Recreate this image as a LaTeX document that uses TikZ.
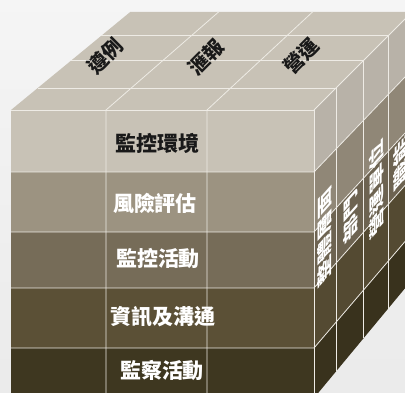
\documentclass[tikz,border=0pt]{standalone}
\usepackage{fontspec}
\usepackage{tikz}
\usetikzlibrary{calc}
\newfontfamily\cjk{Noto Sans CJK TC}
\definecolor{row-a}{HTML}{C8C2B6}
\definecolor{row-b}{HTML}{9C9381}
\definecolor{row-c}{HTML}{766C58}
\definecolor{row-d}{HTML}{5B5036}
\definecolor{row-e}{HTML}{3E3720}
\definecolor{edge}{HTML}{EEEBE5}
\tikzset{
    grid-line/.style = {draw=edge, line width=0.8pt},
    front-label/.style = {text=white, inner sep=0pt, font=\cjk\bfseries\fontsize{21}{21}\selectfont},
    top-label/.style = {text=black!90, inner sep=0pt, rotate=45, font=\cjk\bfseries\fontsize{20}{20}\selectfont},
    side-label/.style = {text=white, inner sep=0pt, cm={0,1.2,-0.8,-0.9,(0,0)}, font=\cjk\bfseries\fontsize{19}{19}\selectfont},
}

\begin{document}
\begin{tikzpicture}[x=1pt, y=-1pt]
\clip (0,0) rectangle (405,393);
\shade[top color=white!96!black, bottom color=white!92!black] (0,0) rectangle (405,393);
\coordinate (V) at (1714,-1290);

% faces
\fill[row-a] (11,110) -- (314,110) -- ($(314,110)!0.07!(V)$) -- ($(11,110)!0.07!(V)$) -- cycle;
\foreach \ya/\yb/\col in {110/172/row-a, 172/232/row-b, 232/288/row-c, 288/348/row-d, 348/398/row-e} {
    \fill[\col] (11,\ya) rectangle (314,\yb);
    \fill[\col!92!black] (314,\ya) -- (314,\yb) -- ($(314,\yb)!0.07!(V)$) -- ($(314,\ya)!0.07!(V)$) -- cycle;
}

% grid
\draw[grid-line] (11,110) -- (314,110) -- (314,398);
\draw[grid-line] (314,110) -- ($(314,110)!0.07!(V)$);
\foreach \x in {106,207}
    \draw[grid-line] (\x,398) -- (\x,110) -- ($(\x,110)!0.07!(V)$);
\foreach \y in {172,232,288,348}
    \draw[grid-line] (11,\y) -- (314,\y) -- ($(314,\y)!0.07!(V)$);
\foreach \t in {0.0157,0.0355,0.053}
    \draw[grid-line] ($(11,110)!\t!(V)$) -- ($(314,110)!\t!(V)$) -- ($(314,398)!\t!(V)$);

% labels
\node[front-label, text=black!90] (environment) at (157,143) {監控環境};
\node[front-label] (risk) at (155,203) {風險評估};
\node[front-label] (control) at (158,258) {監控活動};
\node[front-label] (information) at (163,317) {資訊及溝通};
\node[front-label] (monitoring) at (162,371) {監察活動};

\node[top-label] (compliance) at (105,56) {遵例};
\node[top-label] (reporting) at (206,57) {滙報};
\node[top-label] (operations) at (301,56) {營運};

\node[side-label] (entity) at (325,237) {整體層面};
\node[side-label] (division) at (351,217) {部門};
\node[side-label] (unit) at (377,190) {營運單位};
\node[side-label] (function) at (401,163) {職能};
\end{tikzpicture}
\end{document}
